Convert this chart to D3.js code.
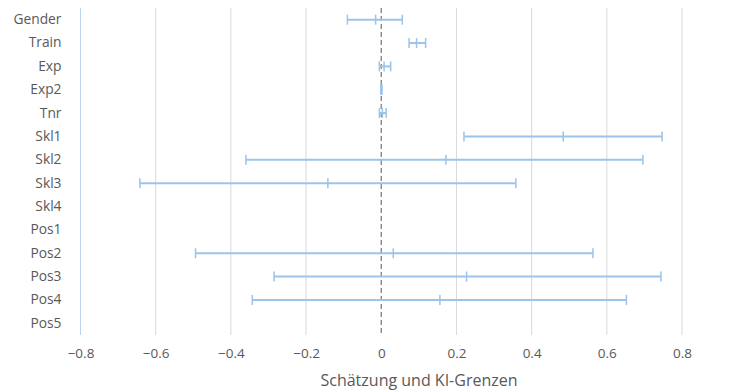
<!DOCTYPE html>
<html>
<head>
<meta charset="utf-8">
<script src="https://cdn.jsdelivr.net/npm/d3@7"></script>
<style>
    body { margin: 0; background: #fff; }
    text { font-family: "Open Sans", sans-serif; fill: #595959; }
</style>
</head>
<body>
<div id="chart"></div>
<script>
var categories = ["Gender", "Train", "Exp", "Exp2", "Tnr", "Skl1", "Skl2", "Skl3", "Skl4", "Pos1", "Pos2", "Pos3", "Pos4", "Pos5"];
var estimates = [-0.015, 0.094, 0.0075, 0.0005, 0.003, 0.484, 0.172, -0.142, null, null, 0.032, 0.227, 0.156, null];
var lowerCI = [-0.090, 0.074, -0.005, -0.001, -0.005, 0.220, -0.360, -0.642, null, null, -0.494, -0.285, -0.343, null];
var upperCI = [0.056, 0.118, 0.025, 0.002, 0.013, 0.747, 0.696, 0.358, null, null, 0.563, 0.744, 0.652, null];
var xTicks = [-0.8, -0.6, -0.4, -0.2, 0, 0.2, 0.4, 0.6, 0.8];

var data = categories.map(function (c, i) {
    return { name: c, est: estimates[i], lo: lowerCI[i], hi: upperCI[i] };
});

var margin = { top: 8, right: 65, bottom: 57, left: 80.5 };
var width = 747 - margin.left - margin.right;
var height = 392 - margin.top - margin.bottom;

var svg = d3.select("#chart").append("svg")
    .attr("width", 747)
    .attr("height", 392);

var g = svg.append("g")
    .attr("transform", "translate(" + margin.left + "," + margin.top + ")");

var x = d3.scaleLinear()
    .domain([-0.8, 0.8])
    .range([0, 601.5]);

var y = d3.scaleBand()
    .domain(categories)
    .range([0, height]);

// gridlines
g.selectAll(".grid")
    .data(xTicks.filter(function (d) { return d !== 0 && d !== -0.8; }))
    .enter().append("line")
    .attr("class", "grid")
    .attr("x1", function (d) { return x(d); })
    .attr("x2", function (d) { return x(d); })
    .attr("y1", 0)
    .attr("y2", height)
    .attr("stroke", "#d9d9d9")
    .attr("stroke-width", 1);

// left axis line
g.append("line")
    .attr("x1", x(-0.8)).attr("x2", x(-0.8))
    .attr("y1", 0).attr("y2", height)
    .attr("stroke", "#bcd3ee")
    .attr("stroke-width", 1);

// x axis labels
var xAxisCall = d3.axisBottom(x)
    .tickValues(xTicks)
    .tickSize(0)
    .tickPadding(13)
    .tickFormat(function (d) { return d === 0 ? "0" : d3.format(".1f")(d).replace("-", "\u2212"); });
var xAxis = g.append("g")
    .attr("transform", "translate(0," + height + ")")
    .call(xAxisCall);
xAxis.select(".domain").remove();
xAxis.selectAll("text")
    .style("font-size", "13.5px")
    .attr("fill", "#595959");

// y axis labels
var yAxisCall = d3.axisLeft(y).tickSize(0).tickPadding(19);
var yAxis = g.append("g").call(yAxisCall);
yAxis.select(".domain").remove();
yAxis.selectAll("text")
    .style("font-size", "13.8px")
    .attr("fill", "#595959");

// x axis title
svg.append("text")
    .attr("x", 419)
    .attr("y", 386)
    .attr("text-anchor", "middle")
    .style("font-size", "16px")
    .text("Schätzung und KI-Grenzen");

// zero line
g.append("line")
    .attr("x1", x(0)).attr("x2", x(0))
    .attr("y1", 0).attr("y2", height)
    .attr("stroke", "#7f7f7f")
    .attr("stroke-width", 1.3)
    .attr("stroke-dasharray", "5,3");

// error bars
var valid = data.filter(function (d) { return d.est !== null; });
var color = "#9cc3ea";
var capH = 5;

var bars = g.selectAll(".ci")
    .data(valid)
    .enter().append("g")
    .attr("class", "ci")
    .attr("transform", function (d) { return "translate(0," + (y(d.name) + y.bandwidth() / 2) + ")"; });

bars.append("line")
    .attr("x1", function (d) { return x(d.lo); })
    .attr("x2", function (d) { return x(d.hi); })
    .attr("stroke", color)
    .attr("stroke-width", 2);

[ "lo", "est", "hi" ].forEach(function (k) {
    bars.append("line")
        .attr("x1", function (d) { return x(d[k]); })
        .attr("x2", function (d) { return x(d[k]); })
        .attr("y1", -capH)
        .attr("y2", capH)
        .attr("stroke", color)
        .attr("stroke-width", 1.5);
});
</script>
</body>
</html>
